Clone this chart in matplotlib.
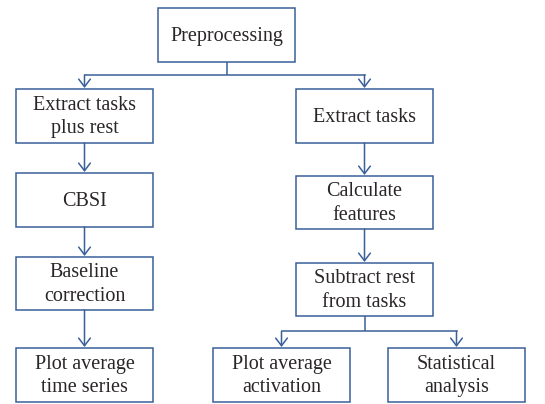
import matplotlib
matplotlib.use("Agg")
import matplotlib.pyplot as plt
from matplotlib.patches import Rectangle

# Node labels
labels = [
    "Preprocessing",
    "Extract tasks\nplus rest",
    "Extract tasks",
    "CBSI",
    "Calculate\nfeatures",
    "Baseline\ncorrection",
    "Subtract rest\nfrom tasks",
    "Plot average\ntime series",
    "Plot average\nactivation",
    "Statistical\nanalysis",
]

# Layout (pixel coords: left, top, right, bottom)
layout = [
    (158, 8, 295, 62),
    (16, 89, 153, 143),
    (296, 89, 433, 143),
    (16, 173, 153, 227),
    (296, 176, 433, 229),
    (16, 257, 153, 310),
    (296, 263, 433, 316),
    (16, 348, 153, 402),
    (213, 348, 350, 402),
    (388, 348, 525, 402),
]

# Edges (parent -> child) in index form
edges_split = [(0, [1, 2]), (6, [8, 9])]
edges_straight = [(1, 3), (3, 5), (5, 7), (2, 4), (4, 6)]

EDGE = "#3b5f98"
TEXT = "#2a2627"
LW = 1.1

fig = plt.figure(figsize=(5.45, 4.04), dpi=100)
ax = fig.add_axes([0, 0, 1, 1])
ax.set_xlim(0, 545)
ax.set_ylim(404, 0)
ax.axis("off")

def cx(i):
    l, t, r, b = layout[i]
    return (l + r) / 2

for lab, (l, t, r, b) in zip(labels, layout):
    ax.add_patch(Rectangle((l, t), r - l, b - t, fill=False, edgecolor=EDGE, lw=LW))
    ax.text((l + r) / 2, (t + b) / 2 + 1, lab, ha="center", va="center",
            fontsize=14.5, family="Liberation Serif", color=TEXT, linespacing=1.32)

arrowprops = dict(arrowstyle="->,head_length=0.55,head_width=0.42", color=EDGE, lw=LW,
                  shrinkA=0, shrinkB=0)

def arrow(x, y0, y1):
    ax.annotate("", xy=(x, y1), xytext=(x, y0), arrowprops=arrowprops)

for a, b in edges_straight:
    arrow(cx(a), layout[a][3], layout[b][1] - 1)

for p, kids in edges_split:
    px = cx(p)
    bottom = layout[p][3]
    top_kids = min(layout[k][1] for k in kids)
    ymid = bottom + (top_kids - bottom) * 0.48
    ax.plot([px, px], [bottom, ymid], color=EDGE, lw=LW, solid_capstyle="butt")
    xs = [cx(k) for k in kids]
    ax.plot([min(xs), max(xs)], [ymid, ymid], color=EDGE, lw=LW, solid_capstyle="projecting")
    for k in kids:
        arrow(cx(k), ymid, layout[k][1] - 1)

fig.savefig("out.png", dpi=100)
